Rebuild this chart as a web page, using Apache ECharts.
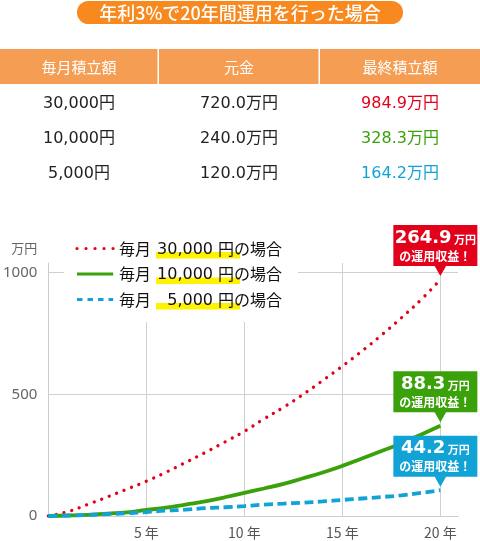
<!DOCTYPE html>
<html>
<head>
<meta charset="utf-8">
<script src="https://cdn.jsdelivr.net/npm/echarts@6/dist/echarts.min.js"></script>
<style>
html,body{margin:0;padding:0;background:#fff;}
#c{width:480px;height:541px;}
</style>
</head>
<body>
<div id="c"></div>
<script>
// ---- data ----
const titleText = '年利3%で20年間運用を行った場合';
const tableHeaders = ['毎月積立額', '元金', '最終積立額'];
const monthly = ['30,000円', '10,000円', '5,000円'];
const principal = ['720.0万円', '240.0万円', '120.0万円'];
const finalAmount = ['984.9万円', '328.3万円', '164.2万円'];
const legendAmounts = ['30,000', '10,000', '5,000'];
const gains = ['264.9', '88.3', '44.2'];
const years = [0,1,2,3,4,5,6,7,8,9,10,11,12,13,14,15,16,17,18,19,20];
const red = [0,18,47,78,110,143,180,220,261,304,348,399,447,500,557,616,678,744,814,888,972];
const green = [0,2,5,10,15,25,34,47,60,77,95,113,132,155,179,206,236,267,298,334,371];
const blue = [0,2,4,8,11,16,22,26,32,36,41,47,51,55,60,66,72,78,85,95,106];
const xTicks = [5,10,15,20];
const yTicks = [0,500,1000];

const COLORS = ['#e2001a', '#3aa10a', '#12a3d6'];
const CJK = "'Noto Sans CJK JP', sans-serif";
const NUM = "'DejaVu Sans', 'Noto Sans CJK JP', sans-serif";

const chart = echarts.init(document.getElementById('c'), null, {renderer:'canvas'});

function toPairs(vals){ return years.map((y,i)=>[y, vals[i]]); }

const graphics = [];
// title pill
graphics.push({type:'rect', z:100, shape:{x:77,y:1,width:326,height:23,r:11.5}, style:{fill:'#f7891f'}});
graphics.push({type:'text', z:101, style:{text:titleText, x:240, y:13, fill:'#fff', fontSize:18, fontWeight:500, fontFamily:CJK, align:'center', verticalAlign:'middle'}});
// table header
graphics.push({type:'rect', z:100, shape:{x:0,y:49,width:480,height:35}, style:{fill:'#f59d52'}});
graphics.push({type:'rect', z:101, shape:{x:157.5,y:49,width:1.5,height:35}, style:{fill:'#fff'}});
graphics.push({type:'rect', z:101, shape:{x:318.5,y:49,width:1.5,height:35}, style:{fill:'#fff'}});
const colX = [79, 239, 400];
tableHeaders.forEach((h,i)=>{
  graphics.push({type:'text', z:102, style:{text:h, x:colX[i], y:67, fill:'#fff', fontSize:15, fontFamily:CJK, align:'center', verticalAlign:'middle'}});
});
const rowY = [104, 139, 174];
for (let r=0;r<3;r++){
  graphics.push({type:'text', z:102, style:{text:monthly[r], x:colX[0], y:rowY[r], fill:'#222', fontSize:16, fontFamily:NUM, align:'center', verticalAlign:'middle'}});
  graphics.push({type:'text', z:102, style:{text:principal[r], x:colX[1], y:rowY[r], fill:'#222', fontSize:16, fontFamily:NUM, align:'center', verticalAlign:'middle'}});
  graphics.push({type:'text', z:102, style:{text:finalAmount[r], x:colX[2], y:rowY[r], fill:COLORS[r], fontSize:16, fontFamily:NUM, align:'center', verticalAlign:'middle'}});
}
// legend block
graphics.push({type:'rect', z:100, shape:{x:64,y:232,width:234,height:90}, style:{fill:'#fff'}});
const legY = [248.5, 274, 299.5];
const dashes = [[0.01, 9], null, [5.5, 5]];
for (let r=0;r<3;r++){
  graphics.push({type:'rect', z:101, shape:{x:156,y:legY[r]+3.5,width:84,height:6.5}, style:{fill:'#fff200'}});
  graphics.push({type:'line', z:102, shape:{x1:77,y1:legY[r],x2:113.2,y2:legY[r]},
    style:{stroke:COLORS[r], lineWidth:3.2, lineDash:dashes[r]||null, lineCap: r===0?'round':'butt'}});
  graphics.push({type:'text', z:102, style:{text:'毎月', x:119, y:legY[r], fill:'#111', fontSize:16, fontFamily:CJK, align:'left', verticalAlign:'middle'}});
  graphics.push({type:'text', z:102, style:{text:legendAmounts[r], x:213, y:legY[r]+1, fill:'#111', fontSize:16, fontFamily:NUM, align:'right', verticalAlign:'middle'}});
  graphics.push({type:'text', z:102, style:{text:'円の場合', x:218, y:legY[r], fill:'#111', fontSize:16, fontFamily:CJK, align:'left', verticalAlign:'middle'}});
}

const option = {
  animation:false,
  backgroundColor:'#fff',
  grid:{left:46, right:22, top:263, bottom:25},
  xAxis:{
    type:'value', min:0, max:20.9, interval:5,
    axisLine:{show:true, lineStyle:{color:'#cccccc', width:1}},
    axisTick:{show:false},
    splitLine:{show:true, showMinLine:false, showMaxLine:false, lineStyle:{color:'#d0d0d0', width:1}},
    axisLabel:{showMinLabel:false, showMaxLabel:false, margin:10, color:'#555', fontSize:14, fontFamily:CJK,
      formatter:(v)=> xTicks.indexOf(v)>=0 ? v+' 年' : ''}
  },
  yAxis:{
    type:'value', min:0, max:1040, interval:500,
    name:'万円', nameLocation:'end', nameGap:15,
    nameTextStyle:{align:'right', verticalAlign:'middle', padding:[0,11,0,0], color:'#666', fontSize:13, fontFamily:CJK},
    axisLine:{show:true, lineStyle:{color:'#cccccc', width:1}},
    axisTick:{show:false},
    splitLine:{show:true, showMaxLine:false, lineStyle:{color:'#d0d0d0', width:1}},
    axisLabel:{showMaxLabel:false, margin:11, color:'#666', fontSize:15, fontFamily:"'Noto Sans', sans-serif",
      formatter:(v)=> yTicks.indexOf(v)>=0 ? String(v) : ''}
  },
  series:[
    {type:'line', name:'毎月 30,000 円の場合', data:toPairs(red), smooth:true, showSymbol:false, symbol:'none', z:3,
      lineStyle:{color:COLORS[0], width:3.3, type:[0.01, 8], cap:'round'}},
    {type:'line', name:'毎月 10,000 円の場合', data:toPairs(green), smooth:true, showSymbol:false, symbol:'none', z:4,
      lineStyle:{color:COLORS[1], width:3.8}},
    {type:'line', name:'毎月 5,000 円の場合', data:toPairs(blue), smooth:true, showSymbol:false, symbol:'none', z:5,
      lineStyle:{color:COLORS[2], width:3.8, type:[9, 4.5]}}
  ],
  graphic:{elements:graphics}
};
chart.setOption(option);

// callouts anchored to the last point of each series
const seriesVals = [red, green, blue];
const callouts = [];
for (let i=0;i<3;i++){
  const last = seriesVals[i].length-1;
  const p = chart.convertToPixel({seriesIndex:i}, [years[last], seriesVals[i][last]]);
  const tipX = p[0], tipY = p[1]-3.5;
  const boxBottom = tipY - 10;
  const boxTop = boxBottom - 41;
  const boxX = tipX - 47;
  const cx = boxX + 42;
  callouts.push({type:'rect', z:120, shape:{x:boxX, y:boxTop, width:84, height:41}, style:{fill:COLORS[i]}});
  callouts.push({type:'polygon', z:120, shape:{points:[[tipX-6,boxBottom-0.5],[tipX+6,boxBottom-0.5],[tipX,tipY]]}, style:{fill:COLORS[i]}});
  callouts.push({type:'text', z:121, style:{
    text:'{n|'+gains[i]+'}{u| 万円}', x:cx, y:boxTop+13, align:'center', verticalAlign:'middle',
    rich:{
      n:{fontSize:18, fontWeight:'bold', fontFamily:"'DejaVu Sans', sans-serif", fill:'#fff', color:'#fff'},
      u:{fontSize:11, fontWeight:'bold', fontFamily:CJK, fill:'#fff', color:'#fff', padding:[3,0,0,0]}
    }}});
  callouts.push({type:'text', z:121, style:{text:'の運用収益！', x:cx, y:boxTop+31, fill:'#fff', fontSize:12, fontWeight:'bold', fontFamily:CJK, align:'center', verticalAlign:'middle'}});
}
chart.setOption({graphic:{elements:graphics.concat(callouts)}}, {replaceMerge:['graphic']});
</script>
</body>
</html>
